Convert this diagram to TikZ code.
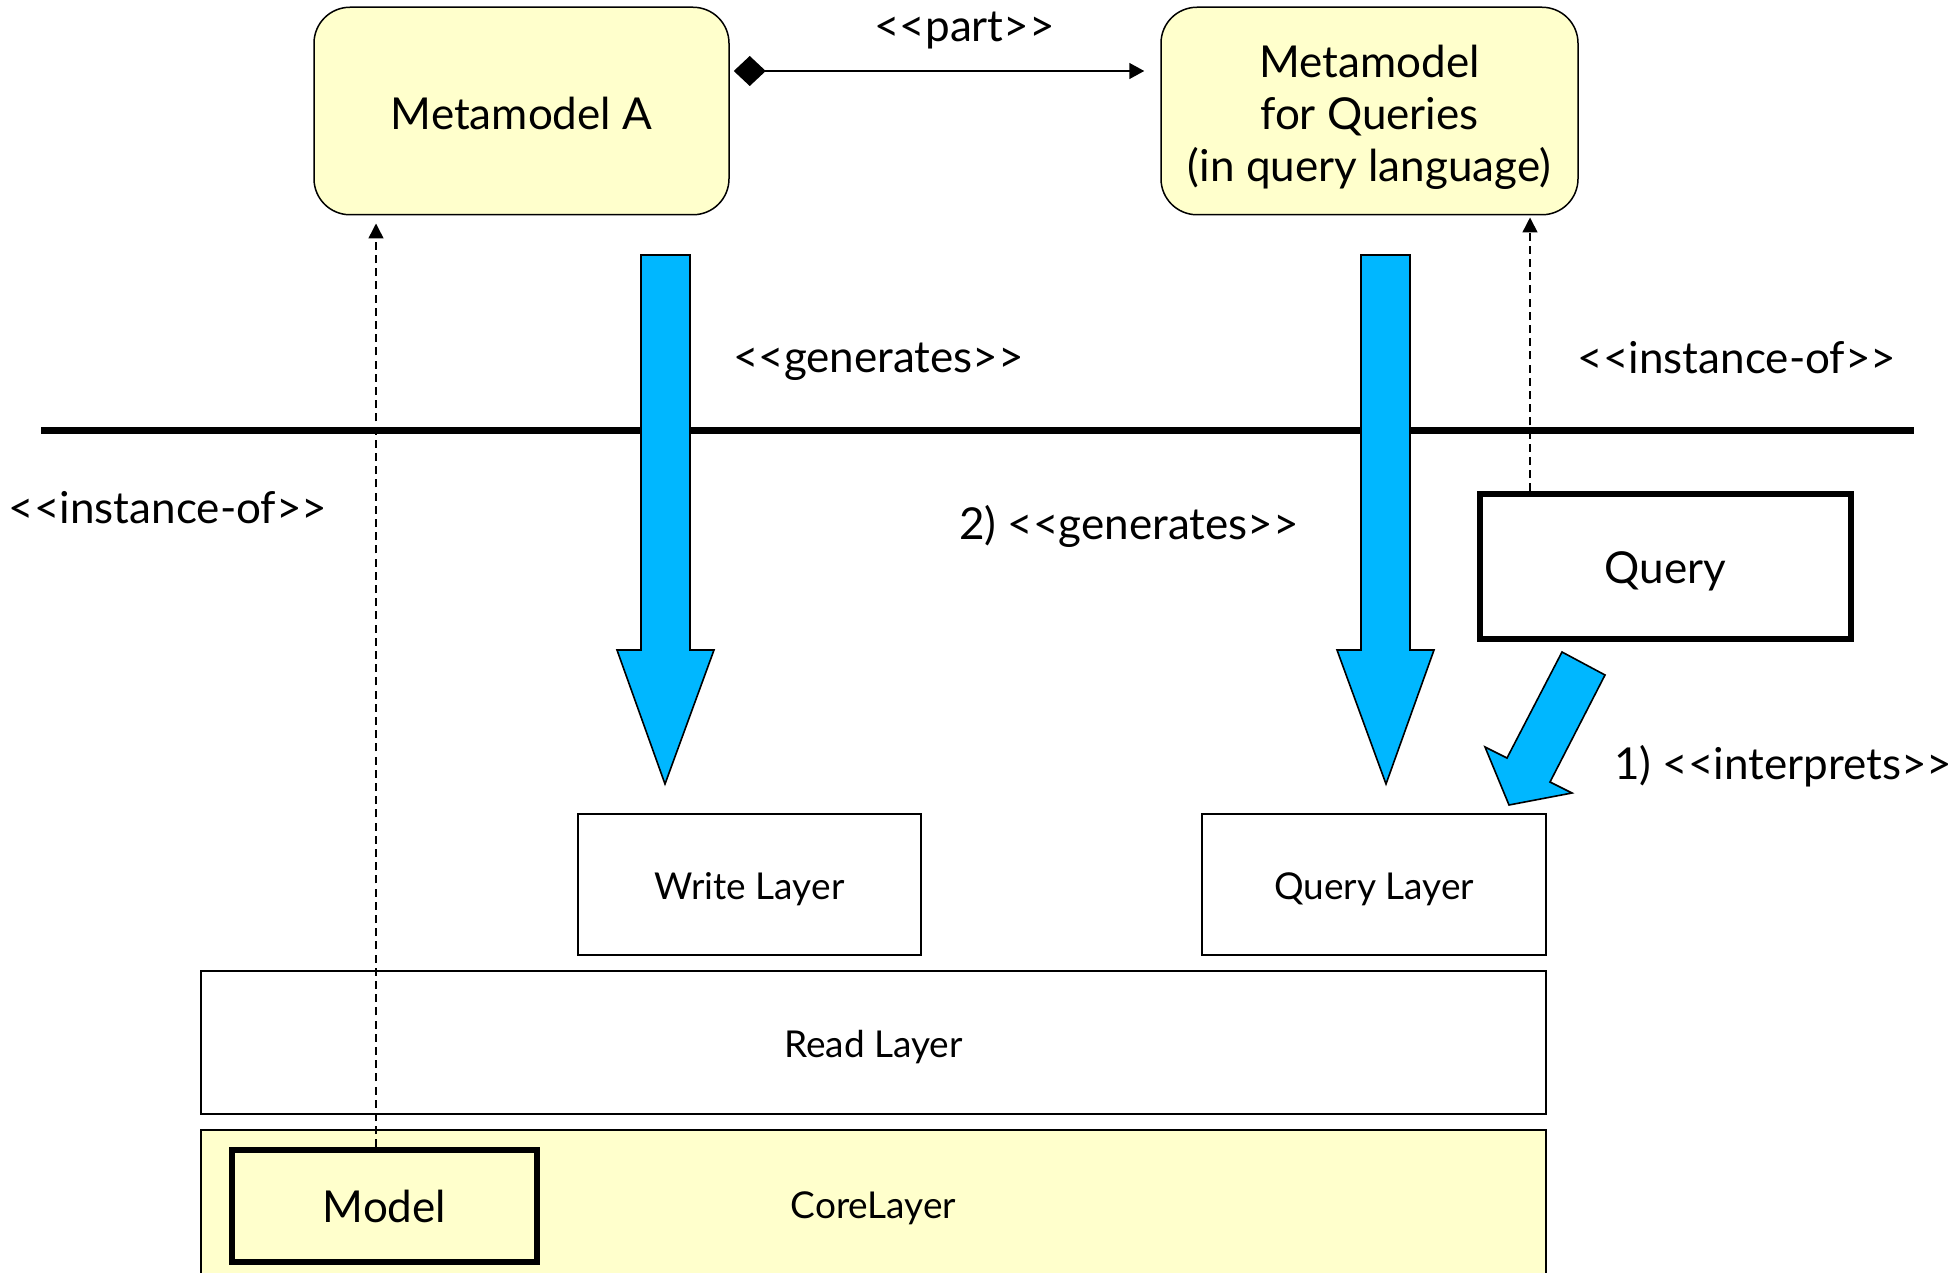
\documentclass[tikz,border=0pt]{standalone}
\usepackage{fontspec}
\setmainfont{Lato}
\usetikzlibrary{arrows.meta}
\definecolor{noteyellow}{RGB}{255,255,204}
\definecolor{genblue}{RGB}{0,183,255}
% guillemet-free stereotype brackets (keeps << and >> as separate glyphs)
\newcommand\stereo[1]{<\kern0pt<#1>\kern0pt>}
\begin{document}
\begin{tikzpicture}[x=0.5pt,y=-0.5pt,
  bigtext/.style={font=\fontsize{22}{26}\selectfont},
  smalltext/.style={font=\fontsize{18.5}{22}\selectfont},
  metabox/.style={draw, line width=0.75pt, fill=noteyellow, rounded corners=18pt,
    inner sep=0pt, align=center, bigtext},
  layerbox/.style={draw, line width=0.75pt, inner sep=0pt, smalltext,
    text height=18.5pt, text depth=3.5pt},
  thickbox/.style={draw, line width=2.6pt, inner sep=0pt, bigtext},
  label/.style={inner sep=0pt, anchor=base, bigtext},
  blockarrow/.style={draw, line width=0.8pt, fill=genblue, line join=miter},
  partof/.style={line width=0.75pt, {Diamond[length=16pt,width=15pt]}-{Triangle[length=7.5pt,width=8pt]}},
  instof/.style={line width=0.75pt, dash pattern=on 4pt off 2.6pt, -{Triangle[length=7.5pt,width=7.5pt]}}
]
\useasboundingbox (0,0) rectangle (1960,1273);
\clip (0,0) rectangle (1960,1273);

% metamodel level
\node[metabox, minimum width=207.5pt, minimum height=103.75pt, text height=19pt, text depth=0pt]
  (mmA) at (521.5,111) {Metamodel A};
\node[metabox, minimum width=208.5pt, minimum height=103.75pt, text depth=0pt] (mmQ) at (1369.5,111)
  {\rule{0pt}{19pt}Metamodel\\for Queries\\(in query language)};

% separator between the levels
\coordinate (sepL) at (41,430);
\coordinate (sepR) at (1914,430);
\draw[line width=3.5pt] (sepL) -- (sepR);

% model level
\node[thickbox, fill=white, minimum width=185.5pt, minimum height=72.5pt,
  text height=21pt, text depth=4.4pt] (query) at (1665.5,566.5) {Query};
\node[layerbox, minimum width=171.5pt, minimum height=70.5pt] (write) at (749.5,884.5) {Write Layer};
\node[layerbox, minimum width=172pt, minimum height=70.5pt] (qlayer) at (1374,884.5) {Query Layer};
\node[layerbox, minimum width=672.5pt, minimum height=71.5pt] (read) at (873.5,1042.5) {Read Layer};
\node[layerbox, fill=noteyellow, minimum width=672.5pt, minimum height=73pt] (core) at (873.5,1203) {CoreLayer};
\node[thickbox, fill=noteyellow, minimum width=152.5pt, minimum height=56pt] (model) at (384.5,1206) {Model};

% labels (placed on their baselines)
\node[label] (lblPart) at (964.5,42) {\stereo{part}};
\node[label] (lblGen) at (878.5,372) {\stereo{generates}};
\node[label] (lblInstR) at (1737,373) {\stereo{instance-of}};
\node[label] (lblInstL) at (168,523) {\stereo{instance-of}};
\node[label] (lblGen2) at (1129,539) {2) \stereo{generates}};
\node[label] (lblInterp) at (1783,779) {1) \stereo{interprets}};

% composition between the metamodels
\draw[partof, shorten <=2pt, shorten >=8pt] (mmA.east |- 0,71) -- (mmQ.west |- 0,71);

% instance-of relations
\coordinate (instxA) at (376,0);
\coordinate (instxQ) at (1530,0);
\draw[instof, shorten >=4pt] (model.north -| instxA) -- (mmA.south -| instxA);
\draw[instof, shorten >=1pt] (query.north -| instxQ) -- (mmQ.south -| instxQ);

% generation and interpretation arrows
\draw[blockarrow] (641,255) -- (690,255) -- (690,650) -- (714,650) -- (665,784)
  -- (617,650) -- (641,650) -- cycle;
\draw[blockarrow] (1361,255) -- (1410,255) -- (1410,650) -- (1434,650) -- (1386,784)
  -- (1337,650) -- (1361,650) -- cycle;
\draw[blockarrow] (1562,652) -- (1605,675) -- (1550,782) -- (1572,793) -- (1509,805)
  -- (1485,747) -- (1507,758) -- cycle;
\end{tikzpicture}
\end{document}
